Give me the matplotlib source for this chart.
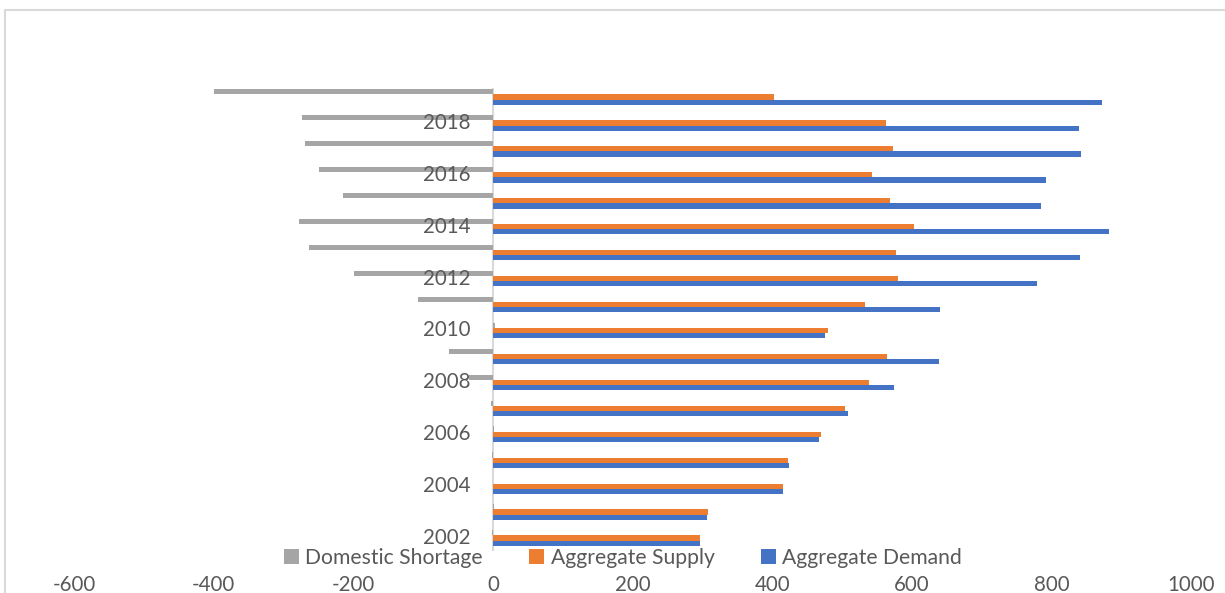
import matplotlib
matplotlib.use("Agg")
import matplotlib.pyplot as plt
from matplotlib.patches import Rectangle
import numpy as np

################################################################################
# Data.                                                                        #
################################################################################

years = list(range(2002, 2020))
demand = [297, 307, 415, 424, 467, 508, 574, 639, 476, 640,
          780, 841, 882, 785, 793, 843, 839, 873]
supply = [296, 308, 415, 423, 470, 505, 539, 565, 480, 533,
          581, 577, 603, 569, 543, 573, 563, 403]
shortage = [-1, 1, 0, -1, 2, -2, -34, -63, 3, -107,
            -199, -264, -278, -215, -249, -269, -274, -399]
tick_years = list(range(2002, 2019, 2))

################################################################################
# Plot.                                                                        #
################################################################################

plt.rcParams['font.family'] = ['Lato', 'DejaVu Sans']
plt.rcParams['axes.unicode_minus'] = False
txt = '#595959'
c_dem, c_sup, c_sho = '#4472C4', '#ED7D31', '#A5A5A5'

fig = plt.figure(figsize=(12.25, 5.93), dpi=100)
ax = fig.add_axes([74/1225, 1-551/593, (1191-74)/1225, (551-84)/593])

y = np.arange(len(years))
h = 0.2
ax.barh(y - h, demand, height=h, color=c_dem, label='Aggregate Demand')
ax.barh(y, supply, height=h, color=c_sup, label='Aggregate Supply')
ax.barh(y + h, shortage, height=h, color=c_sho, label='Domestic Shortage')

ax.axvline(0, ymax=0.99, color='#D9D9D9', lw=1.5, zorder=0)

# Axis details.
ax.set_xlim(-600, 1000)
ax.set_ylim(-0.5, len(years) - 0.5)
ax.set_xticks(range(-600, 1001, 200))
ax.tick_params(axis='x', length=0, pad=17, labelsize=14.8, labelcolor=txt)
ax.set_yticks([])
for s in ax.spines.values():
    s.set_visible(False)

for yr in tick_years:
    ax.text(-32, years.index(yr), str(yr), ha='right', va='center',
            fontsize=14.8, color=txt)

# Legend.
handles, labels = ax.get_legend_handles_labels()
fig.legend(handles[::-1], labels[::-1], loc='center', ncol=3,
           bbox_to_anchor=(623/1225, 1-558/593), frameon=False,
           fontsize=15.2, labelcolor=txt, handlelength=0.7,
           handleheight=0.7, handletextpad=0.3, columnspacing=2.2)

# Chart border.
fig.patches.append(Rectangle((5/1225, -0.1), 1.2, 1-10/593 + 0.1,
                             transform=fig.transFigure, fill=False,
                             edgecolor='#D9D9D9', lw=1.5))

fig.savefig("out.png", dpi=100)
plt.close()
